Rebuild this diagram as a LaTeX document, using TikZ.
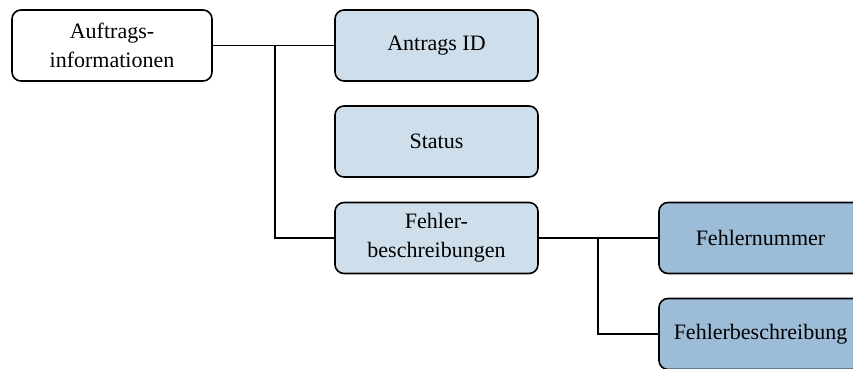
\documentclass[tikz,border=0pt]{standalone}
\usepackage{fontspec}
\setmainfont{Liberation Serif}
\begin{document}
\begin{tikzpicture}[x=1pt,y=-1pt,inner sep=0pt,outer sep=0pt,
infobox/.style={draw,rectangle,rounded corners=9pt,minimum width=203pt,minimum height=71pt,align=center,line width=1.6pt,font=\fontsize{22}{29}\selectfont},
rootbox/.style={infobox,fill=white,minimum width=200pt},
subbox/.style={infobox,fill=lightblue},
leafbox/.style={infobox,fill=darkblue}]
\definecolor{lightblue}{RGB}{206,222,234}
\definecolor{darkblue}{RGB}{157,188,215}
\useasboundingbox (0,0) rectangle (853,369);
\clip (0,0) rectangle (853,369);
\draw (112,45.5) node[rootbox] (root) {Auftrags-\\informationen};
\draw (436.5,45.5) node[subbox] (antrag) {Antrags ID};
\draw (436.5,141.5) node[subbox] (status) {Status};
\draw (436.5,238) node[subbox] (fehler) {Fehler-\\beschreibungen};
\draw (760.5,238) node[leafbox] (nummer) {Fehlernummer};
\draw (760.5,334) node[leafbox] (beschr) {Fehlerbeschreibung};
\coordinate (fork) at (275,45.5);
\coordinate (fork2) at (598,238);
\draw[line width=1.4pt] (root.east) -- (antrag.west);
\draw[line width=1.4pt] (fork) |- (fehler.west);
\draw[line width=1.4pt] (fehler.east) -- (nummer.west);
\draw[line width=1.4pt] (fork2) |- (beschr.west);
\end{tikzpicture}
\end{document}
